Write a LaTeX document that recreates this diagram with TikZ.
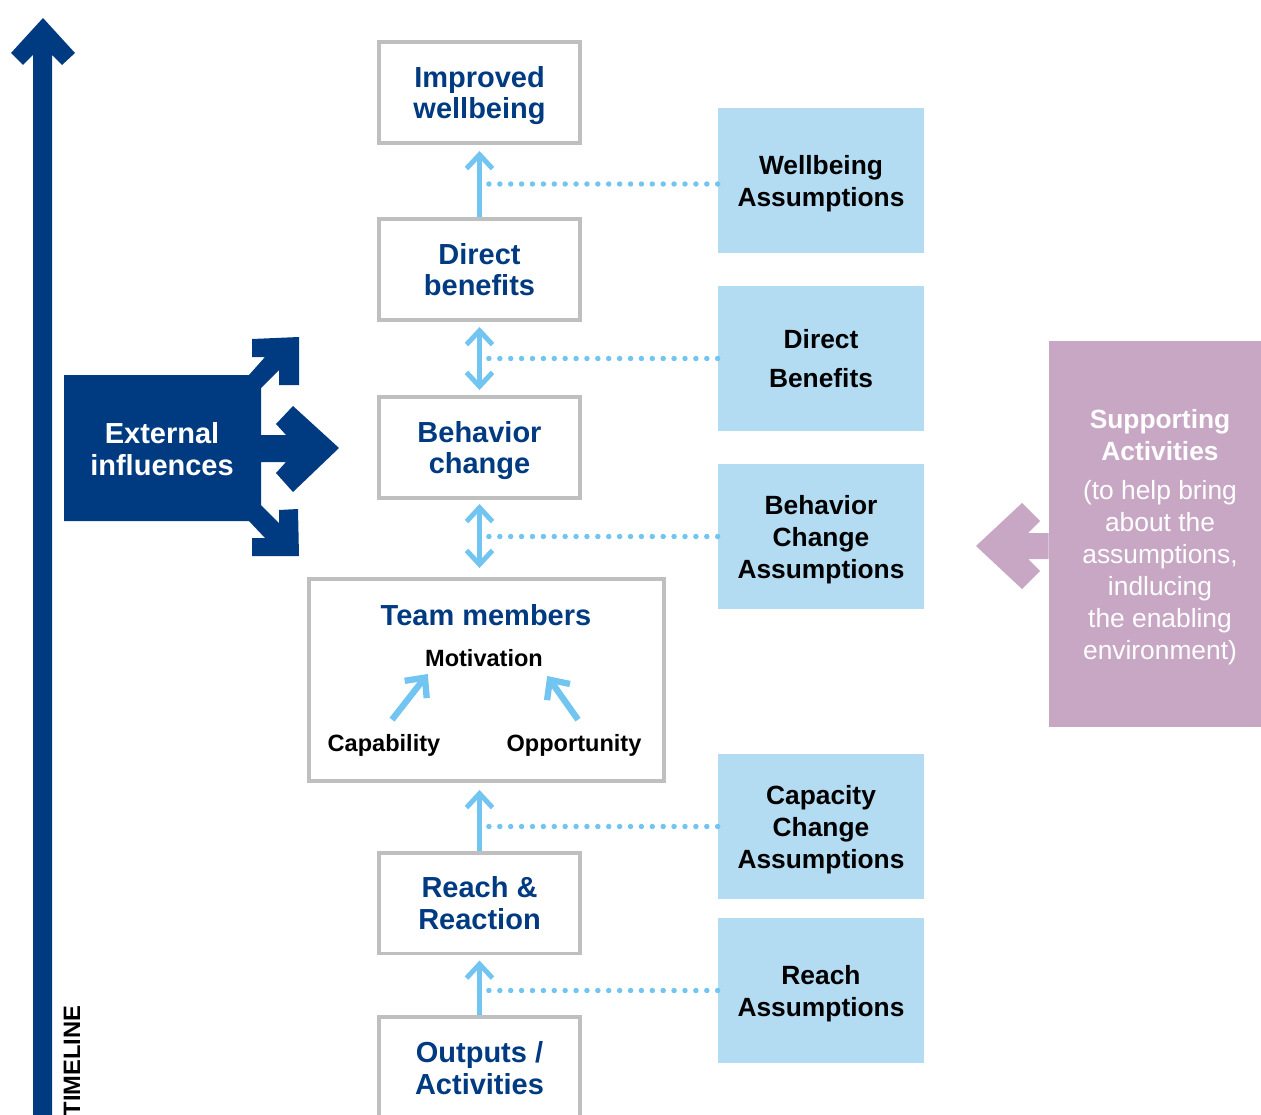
\documentclass[tikz,border=0pt]{standalone}
\usepackage{fontspec}
\setmainfont{Liberation Sans}
\usepackage{tikz}
\usetikzlibrary{
  positioning,
  arrows.meta
}
\definecolor{navy}{RGB}{0,58,128}
\definecolor{skyline}{RGB}{113,197,240}
\definecolor{skyfill}{RGB}{179,220,243}
\definecolor{mauve}{RGB}{200,167,196}
\definecolor{boxgray}{RGB}{191,191,191}

\begin{document}
\begin{tikzpicture}[x=0.02cm,y=-0.02cm,
  stage/.style={draw=boxgray,line width=0.08cm,minimum width=4.02cm,minimum height=2.02cm,
    align=center,text depth=0pt,text=navy,font=\fontsize{16.5}{18.2}\selectfont\bfseries},
  assume/.style={fill=skyfill,minimum width=4.12cm,minimum height=2.9cm,align=center,
    text depth=0pt,font=\fontsize{15}{18.2}\selectfont\bfseries},
  inbox/.style={inner sep=0pt,font=\fontsize{13.4}{16}\selectfont\bfseries},
  link/.style={skyline,line width=2.8pt,-{Straight Barb[length=0.28cm,width=0.52cm]}},
  both/.style={link,{Straight Barb[length=0.28cm,width=0.52cm]}-{Straight Barb[length=0.28cm,width=0.52cm]}},
  inlink/.style={skyline,line width=3.6pt,-{Straight Barb[length=0.3cm,width=0.56cm]}},
  dots/.style={skyline,line width=3.1pt,line cap=round,dash pattern=on 0pt off 6.2pt}]
  \useasboundingbox (0,0) rectangle (1261,1115);

  % timeline
  \fill[navy] (33,1130) -- (33,55) -- (23,65) -- (11,53) -- (43,18) -- (75,53) -- (62,65) -- (52,55) -- (52,1130) -- cycle;
  \node[rotate=90,font=\fontsize{13.5}{16}\selectfont\bfseries] (timelbl) at (72,1061) {TIMELINE};

  % external influences
  \fill[navy] (64,375) -- (249,375) -- (265,357) -- (252,357) -- (252,339) -- (299,337) -- (299,385)
    -- (279,385) -- (279,370) -- (261,388) -- (261,435) -- (286,435) -- (276,424) -- (293,406)
    -- (339,448) -- (293,492) -- (276,473) -- (286,462) -- (261,462) -- (261,505) -- (279,523)
    -- (279,510) -- (298,509) -- (299,556) -- (252,556) -- (252,538) -- (265,538) -- (249,521)
    -- (64,521) -- cycle;
  \node[text=white,align=center,font=\fontsize{16.5}{18.2}\selectfont\bfseries] (ext) at (162,449) {External\\influences};

  % results chain
  \node[stage] (improved) at (479.5,92.5) {Improved\\wellbeing};
  \node[stage] (direct) at (479.5,269.5) {Direct\\benefits};
  \node[stage] (behavior) at (479.5,447.5) {Behavior\\change};
  \node[stage,minimum width=7.1cm,minimum height=4.04cm] (team) at (486.5,680) {};
  \node[stage] (reach) at (479.5,903) {Reach \&\\Reaction};
  \node[stage] (outputs) at (479.5,1067.5) {Outputs /\\Activities};

  \node[inbox,text=navy,font=\fontsize{16.5}{18.2}\selectfont\bfseries] (teamlbl) at (486,615) {Team members};
  \node[inbox] (mot) at (484,658) {Motivation};
  \node[inbox] (cap) at (384,745) {Capability};
  \node[inbox] (opp) at (574,745) {Opportunity};

  % assumptions
  \node[assume] (wellA) at (821,180.5) {Wellbeing\\Assumptions};
  \node[assume] (directA) at (821,358.5) {Direct\\[4.5pt]Benefits};
  \node[assume] (behavA) at (821,536.5) {Behavior\\Change\\Assumptions};
  \node[assume] (capA) at (821,826.5) {Capacity\\Change\\Assumptions};
  \node[assume] (reachA) at (821,990.5) {Reach\\Assumptions};

  % supporting activities
  \node[fill=mauve,minimum width=4.24cm,minimum height=7.72cm] (support) at (1155,534) {};
  \node[text=white,align=center,font=\fontsize{15}{18.2}\selectfont] (supptext) at (1160,537)
    {\textbf{Supporting}\\\textbf{Activities}\\[4pt](to help bring\\about the\\assumptions,\\indlucing\\the enabling\\environment)};
  \fill[mauve] (support.west |- 0,533) -- (1028,533) -- (1040,521) -- (1022,503) -- (976,546)
    -- (1022,589) -- (1040,571) -- (1028,559) -- (support.west |- 0,559) -- cycle;

  % dotted links
  \draw[dots] ([yshift=-0.07cm]wellA.west) -- ([yshift=-0.07cm]wellA.west -| improved.south);
  \draw[dots] (directA.west) -- (directA.west -| direct.south);
  \draw[dots] (behavA.west) -- (behavA.west -| behavior.south);
  \draw[dots] (capA.west) -- (capA.west -| reach.north);
  \draw[dots] (reachA.west) -- (reachA.west -| reach.south);

  % arrows
  \draw[link,shorten >=0.12cm] (direct.north) -- (improved.south);
  \draw[both,shorten <=0.1cm,shorten >=0.1cm] (direct.south) -- (behavior.north);
  \draw[both,shorten <=0.08cm,shorten >=0.18cm] (behavior.south) -- (behavior.south |- team.north);
  \draw[link,shorten >=0.14cm] (reach.north) -- (reach.north |- team.south);
  \draw[link,shorten >=0.1cm] (outputs.north) -- (reach.south);
  \draw[inlink] ([shift={(8,-14)}]cap.north) -- ([shift={(3,7)}]mot.south west);
  \draw[inlink] ([shift={(4,-14)}]opp.north) -- ([shift={(4,9)}]mot.south east);
\end{tikzpicture}
\end{document}
